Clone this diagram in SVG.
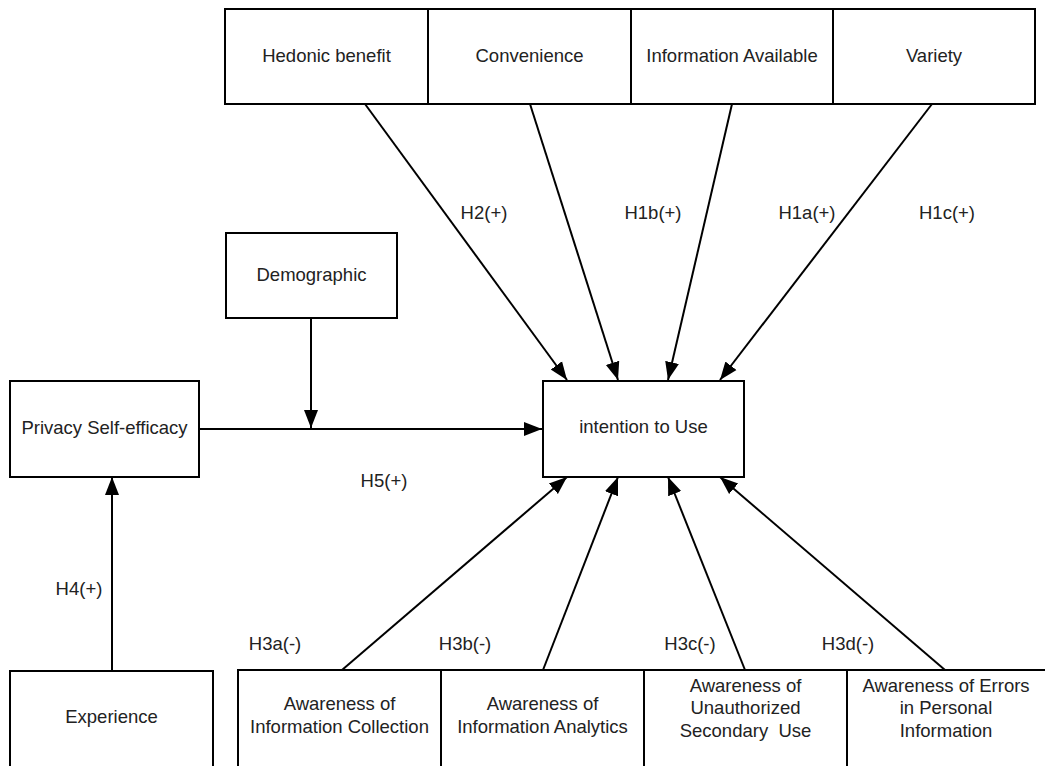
<svg xmlns="http://www.w3.org/2000/svg" width="1045" height="766" viewBox="0 0 1045 766">
<style>
.box{fill:#fff;stroke:#000;stroke-width:2}
.t{font-family:"Liberation Sans",Arial,sans-serif;font-size:18.5px;fill:#222;text-anchor:middle;white-space:pre}
.c{fill:none;stroke:#000;stroke-width:2}
</style>
<defs>
<marker id="ah" markerUnits="userSpaceOnUse" markerWidth="20" markerHeight="16" viewBox="0 0 20 16" refX="18" refY="8" orient="auto">
<path d="M0,1 L18,8 L0,15 Z" fill="#000"/>
</marker>
</defs>
<rect width="1045" height="766" fill="#fff"/>
<g id="connectors">
<line class="c" x1="365" y1="104" x2="567" y2="380" marker-end="url(#ah)"/>
<line class="c" x1="530" y1="104" x2="618" y2="380" marker-end="url(#ah)"/>
<line class="c" x1="732" y1="104" x2="668" y2="380" marker-end="url(#ah)"/>
<line class="c" x1="932" y1="104" x2="720" y2="380" marker-end="url(#ah)"/>
<line class="c" x1="311" y1="318" x2="311" y2="428" marker-end="url(#ah)"/>
<line class="c" x1="200" y1="429" x2="542" y2="429" marker-end="url(#ah)"/>
<line class="c" x1="112" y1="670" x2="112" y2="477" marker-end="url(#ah)"/>
<line class="c" x1="342" y1="670" x2="567" y2="477" marker-end="url(#ah)"/>
<line class="c" x1="543" y1="670" x2="618" y2="477" marker-end="url(#ah)"/>
<line class="c" x1="745" y1="670" x2="668" y2="477" marker-end="url(#ah)"/>
<line class="c" x1="945" y1="670" x2="720" y2="477" marker-end="url(#ah)"/>
<text class="t" x="484" y="219">H2(+)</text>
<text class="t" x="653" y="219">H1b(+)</text>
<text class="t" x="807" y="219">H1a(+)</text>
<text class="t" x="947" y="219">H1c(+)</text>
<text class="t" x="384" y="487">H5(+)</text>
<text class="t" x="79" y="595">H4(+)</text>
<text class="t" x="275" y="650">H3a(-)</text>
<text class="t" x="465" y="650">H3b(-)</text>
<text class="t" x="690" y="650">H3c(-)</text>
<text class="t" x="848" y="650">H3d(-)</text>
</g>
<g id="hedonic"><rect class="box" x="225" y="9" width="203" height="95"/><text class="t" x="326.5" y="62">Hedonic benefit</text></g>
<g id="convenience"><rect class="box" x="428" y="9" width="203" height="95"/><text class="t" x="529.5" y="62">Convenience</text></g>
<g id="information-available"><rect class="box" x="631" y="9" width="202" height="95"/><text class="t" x="732" y="62">Information Available</text></g>
<g id="variety"><rect class="box" x="833" y="9" width="202" height="95"/><text class="t" x="934" y="62">Variety</text></g>
<g id="demographic"><rect class="box" x="226" y="233" width="171" height="85"/><text class="t" x="311.5" y="281">Demographic</text></g>
<g id="privacy"><rect class="box" x="10" y="381" width="189" height="96"/><text class="t" x="104.5" y="434">Privacy Self-efficacy</text></g>
<g id="intention"><rect class="box" x="543" y="381" width="201" height="96"/><text class="t" x="643.5" y="433">intention to Use</text></g>
<g id="experience"><rect class="box" x="10" y="671" width="203" height="100"/><text class="t" x="111.5" y="723">Experience</text></g>
<g id="awareness-collection"><rect class="box" x="238" y="670" width="203" height="100"/><text class="t" x="339.5" y="710">Awareness of</text><text class="t" x="339.5" y="733">Information Collection</text></g>
<g id="awareness-analytics"><rect class="box" x="441" y="670" width="203" height="100"/><text class="t" x="542.5" y="710">Awareness of</text><text class="t" x="542.5" y="733">Information Analytics</text></g>
<g id="awareness-secondary"><rect class="box" x="644" y="670" width="203" height="100"/><text class="t" x="745.5" y="692">Awareness of</text><text class="t" x="745.5" y="714">Unauthorized</text><text class="t" x="745.5" y="737" xml:space="preserve">Secondary  Use</text></g>
<g id="awareness-errors"><rect class="box" x="847" y="670" width="203" height="100"/><text class="t" x="946" y="692">Awareness of Errors</text><text class="t" x="946" y="714">in Personal</text><text class="t" x="946" y="737">Information</text></g>
</svg>
